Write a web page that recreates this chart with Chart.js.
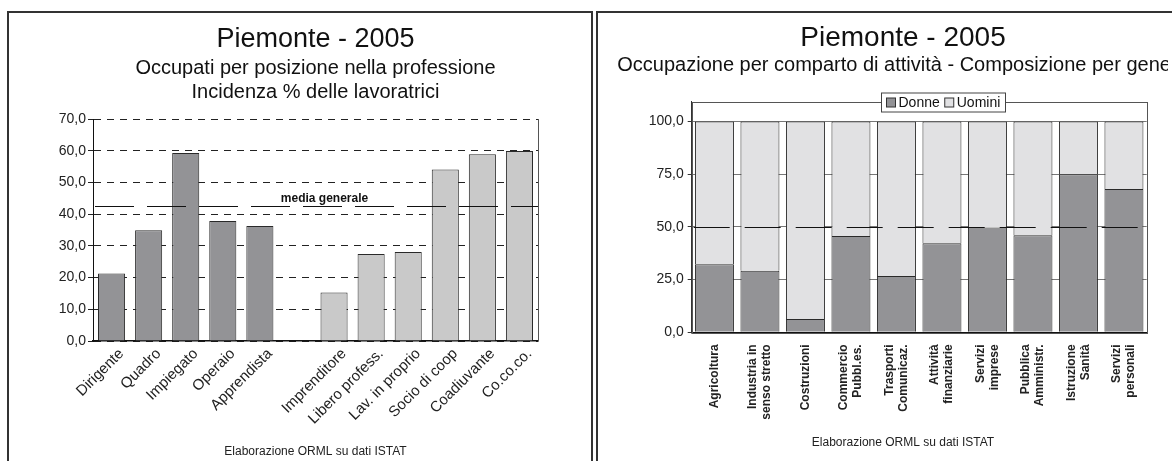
<!DOCTYPE html>
<html><head><meta charset="utf-8">
<script src="https://cdn.jsdelivr.net/npm/chart.js@4.4.1/dist/chart.umd.min.js"></script>
<style>
html,body{margin:0;padding:0;background:#fff;width:1172px;height:461px;overflow:hidden;}
.box{position:absolute;top:11px;border-left:2px solid #333;border-top:2px solid #333;height:470px;}
#boxL{left:7px;width:582px;border-right:2px solid #333;}
#boxR{left:596px;width:600px;}
#clipR{position:absolute;left:597px;top:11px;width:571px;height:450px;overflow:hidden;}
#cL{position:absolute;top:11px;left:8px;}
#cR{position:absolute;top:0;left:0;}
</style></head><body>
<div class="box" id="boxL"></div>
<div class="box" id="boxR"></div>
<canvas id="cL" width="582" height="450"></canvas>
<div id="clipR"><canvas id="cR" width="620" height="450"></canvas></div>
<script>
// ---- Left chart data ----
const posizioni = ['Dirigente','Quadro','Impiegato','Operaio','Apprendista','','Imprenditore','Libero profess.','Lav. in proprio','Socio di coop','Coadiuvante','Co.co.co.'];
const quotaLavoratrici = [21.3,34.9,59.3,37.8,36.3,null,15.3,27.4,28.1,54.1,58.9,59.9];
const lavoroDipendente = [true,true,true,true,true,false,false,false,false,false,false,false];
const mediaGenerale = 42.7;
const yMaxSinistra = 70, yPassoSinistra = 10;

// ---- Right chart data ----
const comparti = [['Agricoltura'],['Industria in','senso stretto'],['Costruzioni'],['Commercio','Pubbl.es.'],['Trasporti','Comunicaz.'],['Attività','finanziarie'],['Servizi','imprese'],['Pubblica','Amministr.'],['Istruzione','Sanità'],['Servizi','personali']];
const donne  = [32.3,29.2,6.3,45.7,26.7,42.2,49.7,46.0,75.0,68.0];
const uomini = [67.7,70.8,93.7,54.3,73.3,57.8,50.3,54.0,25.0,32.0];
const parita = 50;
const yPassoDestra = 25, yTickMaxDestra = 100;

const fonte = 'Elaborazione ORML su dati ISTAT';
const FF = '"Liberation Sans", Arial, sans-serif';
const DARK = '#939396', LIGHT = '#c9c9c9', LIGHT2 = '#e1e1e3';
const fmt = v => Number(v).toFixed(1).replace('.', ',');

// let y-axis labels overflow into the layout padding (no clipping to the axis box)
const unclipY = { id: 'unclipY', afterLayout(chart) { chart.scales.y.left = 0; } };

const mediaPlugin = {
  id: 'mediaLine',
  afterDatasetsDraw(chart) {
    const {ctx, chartArea: a, scales: {y}} = chart;
    const yy = Math.round(y.getPixelForValue(mediaGenerale)) + 0.5;
    ctx.save();
    ctx.strokeStyle = '#111'; ctx.lineWidth = 1; ctx.setLineDash([39, 13]);
    ctx.beginPath(); ctx.moveTo(a.left + 2, yy); ctx.lineTo(a.right, yy); ctx.stroke();
    ctx.setLineDash([]);
    ctx.strokeStyle = '#555';
    const rx = Math.round(a.right) + 0.5;
    ctx.beginPath(); ctx.moveTo(rx, a.top); ctx.lineTo(rx, a.bottom); ctx.stroke();
    ctx.fillStyle = '#111'; ctx.font = 'bold 12px ' + FF; ctx.textAlign = 'center'; ctx.textBaseline = 'middle';
    ctx.fillText('media generale', (a.left + a.right) / 2 + 9, yy - 8);
    ctx.restore();
  }
};

new Chart(document.getElementById('cL'), {
  type: 'bar',
  data: { labels: posizioni, datasets: [{
    label: 'Incidenza % delle lavoratrici', data: quotaLavoratrici,
    backgroundColor: lavoroDipendente.map(d => d ? DARK : LIGHT),
    borderColor: '#2a2a2a', borderWidth: 1, barPercentage: 0.73, categoryPercentage: 1 }] },
  options: {
    responsive: false, animation: false, devicePixelRatio: 1,
    layout: { padding: { left: 47, right: 52, top: 0, bottom: 0 } },
    plugins: {
      legend: { display: false }, tooltip: { enabled: false },
      title: { display: true, fullSize: false, text: 'Piemonte - 2005', color: '#111', font: { family: FF, size: 27, weight: 'normal', lineHeight: 1.2 }, padding: { top: 12.6, bottom: 0 } },
      subtitle: { display: true, fullSize: false, text: ['Occupati per posizione nella professione', 'Incidenza % delle lavoratrici'], color: '#111', font: { family: FF, size: 20, lineHeight: 1.2 }, padding: { top: 0, bottom: 15 } }
    },
    scales: {
      x: { grid: { display: false, drawTicks: false }, border: { display: true, color: '#111', width: 1.5 },
        ticks: { color: '#222', font: { family: FF, size: 15 }, minRotation: 45, maxRotation: 45, padding: 4, labelOffset: 10, autoSkip: false },
        title: { display: true, text: fonte, color: '#222', font: { family: FF, size: 12 }, padding: { top: 0, bottom: 2 } },
        afterFit: s => { s.height = 120; } },
      y: { min: 0, max: yMaxSinistra,
        ticks: { stepSize: yPassoSinistra, callback: fmt, color: '#222', font: { family: FF, size: 14 }, padding: 2 },
        grid: { color: '#222', lineWidth: 1, drawTicks: true, tickLength: 5, tickColor: '#222' },
        border: { display: true, color: '#111', width: 1, dash: [7, 6] },
        afterFit: s => { s.width = 38; } }
    }
  },
  plugins: [mediaPlugin, unclipY]
});

const rightPlugin = {
  id: 'rightDecor',
  afterDatasetsDraw(chart) {
    const {ctx, chartArea: a, scales: {y}} = chart;
    const yy = Math.round(y.getPixelForValue(parita)) + 0.5;
    ctx.save();
    ctx.strokeStyle = '#111'; ctx.lineWidth = 1; ctx.setLineDash([36, 15]);
    ctx.beginPath(); ctx.moveTo(a.left + 2, yy); ctx.lineTo(a.right, yy); ctx.stroke();
    ctx.restore();
  },
  afterDraw(chart) {
    const {ctx, chartArea: a, scales: {x}} = chart;
    const pad = chart.options.layout.padding;
    ctx.save();
    ctx.strokeStyle = '#555'; ctx.lineWidth = 1;
    ctx.strokeRect(Math.round(a.left) + 0.5, Math.round(a.top) + 0.5, Math.round(a.right - a.left), Math.round(a.bottom - a.top));
    // category labels, vertical, block centred on each bar
    ctx.fillStyle = '#222'; ctx.font = 'bold 12px ' + FF; ctx.textAlign = 'right'; ctx.textBaseline = 'middle';
    comparti.forEach((lines, i) => {
      const px = x.getPixelForTick(i);
      ctx.save(); ctx.translate(px, a.bottom + 12); ctx.rotate(-Math.PI / 2);
      lines.forEach((ln, j) => ctx.fillText(ln, 0, (j - (lines.length - 1) / 2) * 14));
      ctx.restore();
    });
    // source note, centred like the title
    ctx.fillStyle = '#222'; ctx.font = '12px ' + FF; ctx.textAlign = 'center';
    ctx.fillText(fonte, (pad.left + chart.width - pad.right) / 2, chart.height - 18);
    // legend sitting on the frame top
    const ds = chart.data.datasets;
    ctx.font = '14px ' + FF; ctx.textAlign = 'left';
    const sw = 9, gap = 3, igap = 5, lp = 5, h = 19;
    const widths = ds.map(d => ctx.measureText(d.label).width);
    const total = Math.round(lp * 2 + widths.reduce((s, w) => s + sw + gap + w, 0) + igap * (ds.length - 1));
    const cx = (a.left + a.right) / 2 + 24, cy = Math.round(a.top) + 0.5;
    const lx = Math.round(cx - total / 2) + 0.5;
    ctx.fillStyle = '#fff'; ctx.fillRect(lx, cy - h / 2, total, h);
    ctx.strokeStyle = '#444'; ctx.strokeRect(lx, cy - h / 2, total, h);
    let px = lx + lp;
    ds.forEach((d, i) => {
      ctx.fillStyle = d.backgroundColor; ctx.fillRect(px, cy - sw / 2, sw, sw);
      ctx.strokeStyle = '#333'; ctx.strokeRect(px, cy - sw / 2, sw, sw);
      px += sw + gap;
      ctx.fillStyle = '#111'; ctx.fillText(d.label, px, cy + 1);
      px += widths[i] + igap;
    });
    ctx.restore();
  }
};

new Chart(document.getElementById('cR'), {
  type: 'bar',
  data: { labels: comparti, datasets: [
    { label: 'Donne', data: donne, backgroundColor: DARK, borderColor: '#2a2a2a', borderWidth: 1, barPercentage: 0.857, categoryPercentage: 1 },
    { label: 'Uomini', data: uomini, backgroundColor: LIGHT2, borderColor: '#2a2a2a', borderWidth: 1, barPercentage: 0.857, categoryPercentage: 1 }
  ] },
  options: {
    responsive: false, animation: false, devicePixelRatio: 1,
    layout: { padding: { left: 11, right: 19, top: 0, bottom: 0 } },
    plugins: {
      legend: { display: false }, tooltip: { enabled: false },
      title: { display: true, text: 'Piemonte - 2005', color: '#111', font: { family: FF, size: 28, weight: 'normal', lineHeight: 1.1 }, padding: { top: 11.6, bottom: 0 } },
      subtitle: { display: true, text: 'Occupazione per comparto di attività - Composizione per genere', color: '#111', font: { family: FF, size: 20, lineHeight: 1.22 }, padding: { top: 0, bottom: 23.9 } }
    },
    scales: {
      x: { stacked: true, grid: { display: false, drawTicks: false }, border: { display: true, color: '#111', width: 1.5 },
        ticks: { display: false },
        afterFit: s => { s.height = 128.7; } },
      y: { stacked: true, min: 0, max: 109.4,
        ticks: { stepSize: yPassoDestra, callback: fmt, color: '#222', font: { family: FF, size: 14 }, padding: 4 },
        afterBuildTicks: s => { s.ticks = s.ticks.filter(t => t.value <= yTickMaxDestra && t.value % yPassoDestra === 0); },
        grid: { color: '#777', lineWidth: 1, drawTicks: true, tickLength: 4, tickColor: '#333' },
        border: { display: true, color: '#333', width: 1 },
        afterFit: s => { s.width = 83.7; } },
      yDx: { type: 'linear', position: 'right', min: 0, max: 1,
        grid: { display: false, drawTicks: false }, border: { display: false }, ticks: { display: false },
        afterFit: s => { s.width = 51.3; } }
    }
  },
  plugins: [rightPlugin, unclipY]
});
</script>
</body></html>
